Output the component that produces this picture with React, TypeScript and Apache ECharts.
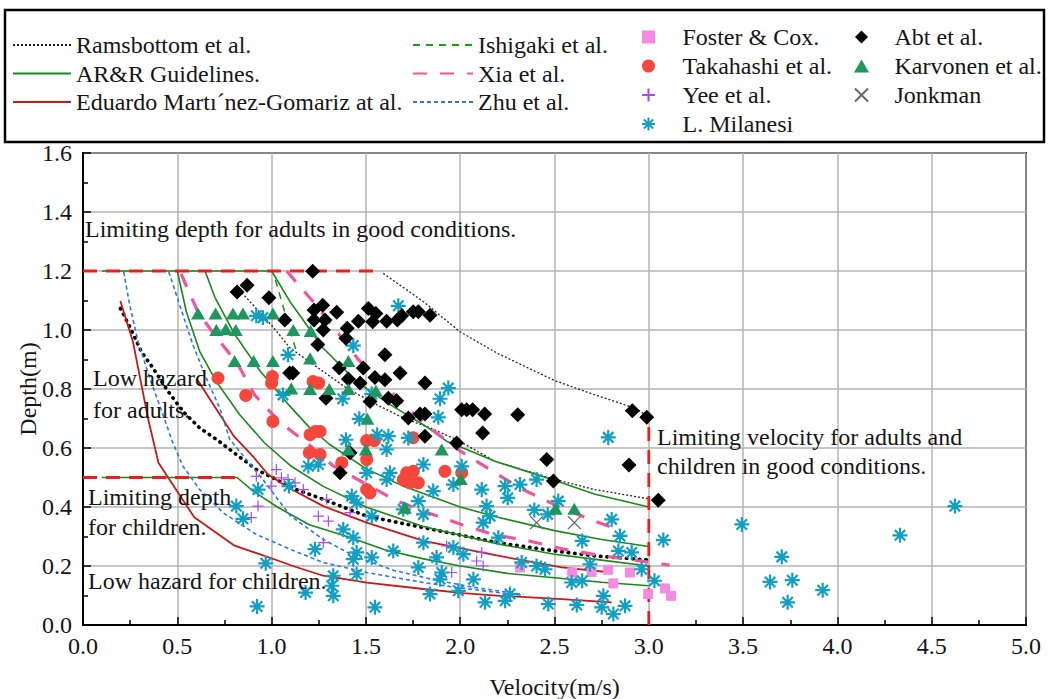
import React, { useEffect, useRef } from "react";
import * as echarts from "echarts";

const FONT = "'Times New Roman', 'Liberation Serif', serif";
const TXT = "#151515";

// ---------- axis ----------
const xMin = 0, xMax = 5, xStep = 0.5;
const yMin = 0, yMax = 1.6, yStep = 0.2;

// ---------- line data [velocity, depth] ----------
const ramsMid = [[0.813,1.146],[0.919,1.073],[1.007,1.011],[1.096,0.94],[1.274,0.859],[1.398,0.803],[1.557,0.747],[1.698,0.702],[1.84,0.668],[1.981,0.628],[2.185,0.555],[2.503,0.493],[2.715,0.459],[2.997,0.428]];
const ramsUpper = [[1.592,1.192],[1.805,1.096],[1.999,0.994],[2.2,0.92],[2.503,0.828],[2.715,0.78],[2.927,0.735],[2.997,0.707]];
const ramsThick = [[0.198,1.073],[0.248,1.011],[0.309,0.927],[0.371,0.871],[0.451,0.792],[0.53,0.724],[0.619,0.668],[0.71,0.628],[0.813,0.578],[0.919,0.527],[1.025,0.493],[1.105,0.465],[1.274,0.426],[1.504,0.369],[1.805,0.33],[2.2,0.279],[2.503,0.251],[2.715,0.234],[2.989,0.221]];

const arrH12 = [[0.1,1.2],[1.0,1.2]];
const arrH05 = [[0.1,0.5],[0.82,0.5]];
const arr12 = [[1.0,1.2],[1.098,1.096],[1.274,0.938],[1.451,0.825],[1.628,0.747],[1.805,0.679],[1.928,0.623],[2.185,0.555],[2.503,0.49],[2.715,0.443],[3.0,0.4]];
const arr08 = [[0.647,1.2],[0.7,1.11],[0.8,0.99],[0.94,0.86],[1.098,0.741],[1.2,0.67],[1.31,0.611],[1.5,0.53],[1.7,0.47],[2.0,0.4],[2.2,0.365],[2.5,0.32],[2.75,0.29],[3.0,0.266]];
const arr06 = [[0.5,1.2],[0.548,1.062],[0.619,0.927],[0.707,0.825],[0.831,0.713],[0.963,0.617],[1.1,0.54],[1.274,0.47],[1.5,0.4],[1.8,0.335],[2.2,0.275],[2.5,0.24],[2.75,0.22],[3.0,0.2]];
const arr04 = [[0.817,0.5],[0.9,0.455],[1.03,0.4],[1.2,0.34],[1.4,0.3],[1.6,0.255],[1.8,0.225],[2.0,0.2],[2.25,0.175],[2.5,0.16],[2.75,0.145],[3.0,0.133]];

const mgSteep = [[0.198,1.098],[0.265,0.96],[0.345,0.7],[0.4,0.55],[0.59,0.365],[0.8,0.27],[1.04,0.217],[1.113,0.2],[1.274,0.167],[1.504,0.144],[1.805,0.122],[2.017,0.108],[2.211,0.099],[2.538,0.088],[2.803,0.077]];
const mgUpper = [[0.603,0.835],[0.698,0.741],[0.8,0.64],[0.901,0.572],[0.981,0.51],[1.1,0.462],[1.274,0.403],[1.504,0.347],[1.805,0.285],[2.2,0.235],[2.538,0.195],[2.803,0.178]];

const zhuA = [[0.216,1.197],[0.248,1.084],[0.292,0.96],[0.354,0.837],[0.424,0.713],[0.472,0.625],[0.53,0.538],[0.619,0.459],[0.742,0.381],[0.919,0.307],[1.105,0.255],[1.274,0.212],[1.504,0.178],[1.805,0.144],[1.981,0.127],[2.2,0.11],[2.335,0.101]];
const zhuB = [[0.455,1.197],[0.513,1.084],[0.583,0.949],[0.654,0.837],[0.725,0.735],[0.778,0.63],[0.866,0.561],[0.954,0.493],[1.1,0.37],[1.274,0.29],[1.45,0.23],[1.65,0.185],[1.85,0.155],[2.05,0.13],[2.335,0.103]];

const xiaA = [[0.52,1.19],[0.61,1.06],[0.698,0.983],[0.82,0.885],[0.91,0.78],[1.04,0.69],[1.2,0.61],[1.325,0.54],[1.495,0.48],[1.665,0.42],[1.84,0.378],[2.01,0.34],[2.175,0.307],[2.37,0.284],[2.55,0.257],[2.74,0.236],[2.92,0.22],[3.11,0.203]];
const xiaB = [[1.08,1.2],[1.215,1.1],[1.34,1.0],[1.46,0.9],[1.59,0.82],[1.72,0.735],[1.855,0.66],[2.0,0.59],[2.185,0.516],[2.33,0.46],[2.51,0.405],[2.68,0.36],[2.85,0.32]];

const ishigaki = [[1.02,1.17],[1.07,1.06],[1.13,0.93]];

const limAdult = [[0,1.2],[1.584,1.2]];
const limChild = [[0,0.5],[0.822,0.5]];
const limVel = [[3.0,0],[3.0,0.71]];

// ---------- scatter data ----------
const foster = [[2.785,0.187],[2.9,0.178],[2.812,0.141],[2.997,0.105],[3.086,0.124],[3.118,0.099],[2.594,0.178],[2.317,0.195],[2.697,0.18]];
const takahashi = [[0.716,0.837],[1.004,0.842],[1.0,0.82],[0.863,0.778],[1.007,0.69],[1.22,0.825],[1.25,0.82],[1.233,0.656],[1.257,0.656],[1.204,0.645],[1.2,0.584],[1.504,0.625],[1.545,0.625],[1.75,0.635],[1.257,0.578],[1.372,0.55],[1.504,0.561],[1.522,0.448],[1.504,0.459],[1.716,0.516],[1.751,0.521],[1.698,0.493],[1.778,0.482],[1.734,0.482],[1.919,0.521],[2.008,0.516]];
const yee = [[0.919,0.504],[1.025,0.527],[1.052,0.499],[1.087,0.493],[0.998,0.471],[0.928,0.403],[0.892,0.364],[1.124,0.482],[1.168,0.459],[1.292,0.426],[1.416,0.381],[1.248,0.369],[1.301,0.352],[1.274,0.279],[1.928,0.268],[1.955,0.178],[2.087,0.217],[2.122,0.2],[2.114,0.246]];
const milanesi = [[0.919,1.048],[0.954,1.042],[1.087,0.916],[1.06,0.78],[1.672,1.082],[1.433,0.947],[1.377,0.767],[1.531,0.783],[1.893,0.767],[1.937,0.803],[1.884,0.704],[1.465,0.699],[1.394,0.628],[1.56,0.645],[1.619,0.64],[1.725,0.634],[2.785,0.636],[0.928,0.459],[0.813,0.403],[0.848,0.36],[0.969,0.209],[0.923,0.063],[1.092,0.471],[1.18,0.11],[1.23,0.257],[1.195,0.538],[1.248,0.544],[1.327,0.167],[1.319,0.133],[1.327,0.099],[1.38,0.324],[1.433,0.296],[1.451,0.246],[1.433,0.223],[1.451,0.172],[1.531,0.229],[1.548,0.06],[1.61,0.595],[1.504,0.516],[1.628,0.516],[1.61,0.493],[1.805,0.544],[1.857,0.454],[1.964,0.476],[2.114,0.459],[2.14,0.403],[2.158,0.369],[2.122,0.347],[2.008,0.538],[1.425,0.437],[1.451,0.415],[1.698,0.392],[1.778,0.42],[1.805,0.375],[1.531,0.369],[1.645,0.251],[1.805,0.279],[1.875,0.229],[1.964,0.263],[2.017,0.24],[1.778,0.195],[1.902,0.178],[1.893,0.155],[2.07,0.155],[1.84,0.105],[1.99,0.116],[2.132,0.077],[2.238,0.471],[2.252,0.431],[2.317,0.476],[2.405,0.493],[2.52,0.42],[2.393,0.39],[2.464,0.375],[2.803,0.358],[2.847,0.302],[2.647,0.285],[2.839,0.251],[2.909,0.246],[3.077,0.288],[2.688,0.206],[2.962,0.189],[3.03,0.15],[2.202,0.296],[2.326,0.212],[2.405,0.2],[2.45,0.189],[2.591,0.144],[2.647,0.15],[2.264,0.105],[2.238,0.082],[2.467,0.071],[2.618,0.068],[2.759,0.099],[2.75,0.06],[2.812,0.037],[2.874,0.065],[3.493,0.341],[3.705,0.231],[3.643,0.146],[3.761,0.152],[3.736,0.077],[3.922,0.118],[4.332,0.304],[4.623,0.403]];
const abt = [[0.817,1.129],[0.87,1.152],[0.986,1.109],[1.07,1.034],[1.096,0.854],[1.218,1.199],[1.271,1.084],[1.225,1.068],[1.345,1.06],[1.225,1.034],[1.283,1.034],[1.274,1.0],[1.401,1.006],[1.46,1.03],[1.513,1.073],[1.553,1.056],[1.536,1.028],[1.61,1.03],[1.667,1.034],[1.69,1.048],[1.751,1.062],[1.778,1.062],[1.84,1.05],[1.394,0.972],[1.245,0.951],[1.601,0.916],[1.112,0.854],[1.359,0.871],[1.486,0.871],[1.407,0.834],[1.469,0.82],[1.548,0.839],[1.601,0.831],[1.681,0.854],[1.813,0.82],[1.288,0.769],[1.522,0.758],[1.619,0.769],[1.663,0.76],[1.787,0.715],[1.813,0.715],[1.725,0.702],[2.008,0.73],[2.034,0.73],[2.066,0.73],[2.13,0.715],[2.119,0.651],[1.813,0.64],[1.981,0.617],[2.305,0.713],[2.913,0.726],[2.989,0.704],[2.459,0.561],[2.895,0.542],[3.05,0.423],[2.494,0.488],[1.416,0.584],[1.363,0.516]];
const karvonen = [[0.61,1.056],[0.703,1.056],[0.795,1.056],[0.848,1.056],[1.007,1.056],[0.707,1.0],[0.757,1.003],[0.81,1.0],[0.804,0.895],[0.905,0.895],[1.007,0.895],[1.104,0.802],[1.115,1.0],[1.207,0.997],[1.204,0.904],[1.407,0.895],[1.204,0.8],[1.306,0.8],[1.407,0.8],[1.508,0.699],[1.553,0.794],[1.407,0.595],[1.5,0.595],[1.902,0.595],[1.707,0.398],[2.003,0.495],[2.506,0.394],[2.605,0.394]];
const jonkman = [[2.405,0.347],[2.605,0.347]];

// ---------- names ----------
const N_RAMS = "Ramsbottom et al.";
const N_ARR = "AR&R Guidelines.";
const N_MG = "Eduardo Martı´nez-Gomariz at al.";
const N_ISH = "Ishigaki et al.";
const N_XIA = "Xia et al.";
const N_ZHU = "Zhu et al.";
const N_FOS = "Foster & Cox.";
const N_TAK = "Takahashi et al.";
const N_YEE = "Yee et al.";
const N_MIL = "L. Milanesi";
const N_ABT = "Abt et al.";
const N_KAR = "Karvonen et al.";
const N_JON = "Jonkman";

const SYM_AST = "path://M10 0 L10 20 M0 10 L20 10 M3 3 L17 17 M3 17 L17 3";
const SYM_PLUS = "path://M10 0 L10 20 M0 10 L20 10";
const SYM_X = "path://M0 0 L20 20 M0 20 L20 0";
const SYM_SQ = "path://M0 0 L10 0 L10 10 L0 10 Z";
const SYM_DIA = "path://M10 0 L20 10 L10 20 L0 10 Z";
const SYM_TRI = "path://M10 0 L20 17.3 L0 17.3 Z";

const CLEAR = "rgba(0,0,0,0)";

function line(name: string, data: number[][], color: string, width: number, type: any, z = 3, cap = "butt") {
  return {
    type: "line", name, data, symbol: "none", silent: true, z,
    lineStyle: { color, width, type, cap },
    itemStyle: { color: CLEAR, borderColor: CLEAR, opacity: 0 },
  };
}
function scatter(name: string, data: number[][], symbol: string, size: number, color: string, stroke?: number) {
  return {
    type: "scatter", name, data, symbol, symbolSize: size, symbolKeepAspect: true, z: 5, silent: true,
    itemStyle: stroke
      ? { color: CLEAR, borderColor: color, borderWidth: stroke, opacity: 1 }
      : { color, opacity: 1 },
  };
}

const textStyle = { fontFamily: FONT, fontSize: 24, color: TXT, lineHeight: 24 };

function annot(x: number, y: number, text: string) {
  return {
    type: "text", x, y, z: 10, silent: true,
    style: { text, fill: TXT, font: `24px ${FONT}`, verticalAlign: "middle", align: "left" },
  };
}

export default function App() {
  const ref = useRef<HTMLDivElement>(null);
  useEffect(() => {
    if (!ref.current) return;
    const chart = echarts.init(ref.current, null, { renderer: "svg" });
    const axisCommon = {
      type: "value",
      axisLine: { show: true, onZero: false, lineStyle: { color: "#000", width: 2 } },
      axisTick: { show: true, inside: true, length: 8, lineStyle: { color: "#000", width: 1.5 } },
      minorTick: { show: true, splitNumber: 2, length: 5, lineStyle: { color: "#000", width: 1.5 } },
      splitLine: { show: true, lineStyle: { color: "#b3b3b3", width: 1.5 } },
      nameLocation: "middle",
      nameMoveOverlap: false,
      nameTextStyle: { fontFamily: FONT, fontSize: 24, color: TXT },
    };
    const legendBase = { orient: "vertical", padding: 0, symbolKeepAspect: true, textStyle, selectedMode: false };
    chart.setOption({
      animation: false,
      backgroundColor: "#fff",
      grid: { left: 83, right: 23, top: 153, bottom: 74, show: true, borderColor: "#000", borderWidth: 2, containLabel: false, outerBoundsMode: "none" },
      xAxis: {
        ...axisCommon, min: xMin, max: xMax, interval: xStep,
        name: "Velocity(m/s)", nameGap: 50,
        axisLabel: { fontFamily: FONT, fontSize: 24, color: TXT, margin: 9, formatter: (v: number) => v.toFixed(1) },
      },
      yAxis: {
        ...axisCommon, min: yMin, max: yMax, interval: yStep,
        name: "Depth(m)", nameGap: 43,
        axisLabel: { fontFamily: FONT, fontSize: 24, color: TXT, margin: 11, formatter: (v: number) => v.toFixed(1) },
      },
      legend: [
        { ...legendBase, left: 12, top: 33, itemWidth: 58, itemHeight: 14, itemGap: 4.5, itemStyle: { opacity: 0 }, data: [N_RAMS, N_ARR, N_MG] },
        { ...legendBase, left: 412, top: 33, itemWidth: 60, itemHeight: 14, itemGap: 4.5, itemStyle: { opacity: 0 }, data: [N_ISH, N_XIA, N_ZHU] },
        { ...legendBase, left: 641, top: 25, itemWidth: 58, itemHeight: 13, itemGap: 5, data: [N_FOS, N_TAK, N_YEE, N_MIL] },
        { ...legendBase, left: 854, top: 25, itemWidth: 56, itemHeight: 13, itemGap: 5, data: [N_ABT, N_KAR, N_JON] },
      ],
      graphic: [
        { type: "rect", shape: { x: 5, y: 10, width: 1039, height: 132 }, style: { fill: "none", stroke: "#000", lineWidth: 2.5 }, silent: true },
        annot(85, 229, "Limiting depth for adults in good conditions."),
        annot(93, 378, "Low hazard"),
        annot(93, 410, "for adults."),
        annot(88, 497, "Limiting depth"),
        annot(88, 527, "for children."),
        annot(88, 581, "Low hazard for children."),
        annot(657, 437, "Limiting velocity for adults and"),
        annot(657, 466, "children in good conditions."),
      ],
      series: [
        line(N_RAMS, ramsMid, "#222", 1.3, [2, 2]),
        line(N_RAMS, ramsUpper, "#222", 1.3, [2, 2]),
        line(N_RAMS, ramsThick, "#000", 3.6, [0.5, 6], 3, "round"),
        line(N_ARR, arrH12, "#188a18", 1.6, "solid"),
        line(N_ARR, arrH05, "#188a18", 1.6, "solid"),
        line(N_ARR, arr12, "#188a18", 1.6, "solid"),
        line(N_ARR, arr08, "#188a18", 1.6, "solid"),
        line(N_ARR, arr06, "#188a18", 1.6, "solid"),
        line(N_ARR, arr04, "#188a18", 1.6, "solid"),
        line(N_MG, mgSteep, "#c81818", 1.8, "solid"),
        line(N_MG, mgUpper, "#c81818", 1.8, "solid"),
        line(N_ISH, ishigaki, "#1c9a1c", 1.6, [7, 6]),
        line(N_XIA, xiaA, "#f2559e", 3.2, [14, 13]),
        line(N_XIA, xiaB, "#f2559e", 3.2, [14, 13]),
        line(N_ZHU, zhuA, "#2a78e0", 1.6, [4, 3]),
        line(N_ZHU, zhuB, "#2a78e0", 1.6, [4, 3]),
        line("limits", limAdult, "#f01c1c", 2.8, [14, 9], 4),
        line("limits", limChild, "#f01c1c", 2.8, [14, 9], 4),
        line("limits", limVel, "#f01c1c", 2.8, [14, 9], 4),
        scatter(N_FOS, foster, SYM_SQ, 10, "#f58ae2"),
        scatter(N_TAK, takahashi, "circle", 13, "#f5473b"),
        scatter(N_YEE, yee, SYM_PLUS, 11, "#a24cf0", 1.2),
        scatter(N_MIL, milanesi, SYM_AST, 15, "#139fc4", 2.2),
        scatter(N_ABT, abt, SYM_DIA, 15, "#000"),
        scatter(N_KAR, karvonen, SYM_TRI, 14, "#1e9660"),
        scatter(N_JON, jonkman, SYM_X, 13, "#666", 1.3),
      ],
    });
    return () => chart.dispose();
  }, []);
  return <div ref={ref} style={{ position: "fixed", left: 0, top: 0, width: 1049, height: 699, background: "#fff" }} />;
}
